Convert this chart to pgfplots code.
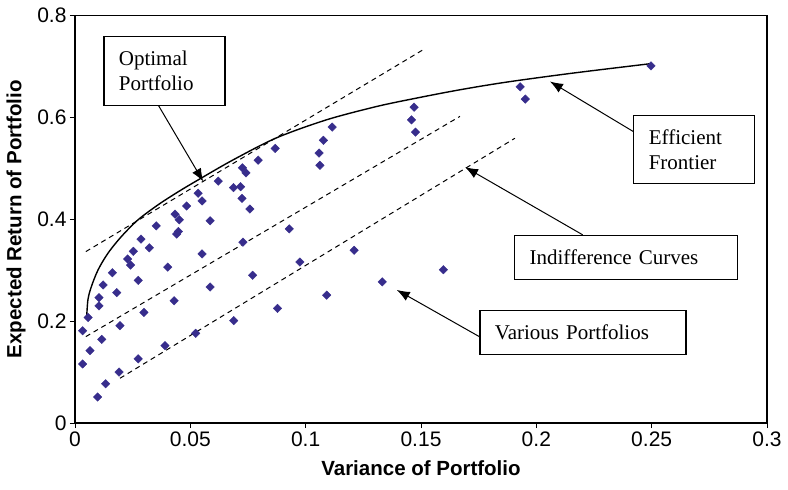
\documentclass[border=0pt]{standalone}
\usepackage{pgfplots}
\pgfplotsset{compat=1.18}
\usetikzlibrary{arrows.meta}
\usepackage{fontspec}
\setmainfont{Liberation Sans}
\newfontfamily\serif{Liberation Serif}
\definecolor{pts}{RGB}{55,45,140}

\begin{document}
\begin{tikzpicture}
\begin{axis}[
  at={(75bp,67bp)}, anchor=south west,
  scale only axis, width=692bp, height=407.5bp,
  xmin=0, xmax=0.3, ymin=0, ymax=0.8,
  xtick={0,0.05,0.1,0.15,0.2,0.25,0.3},
  xticklabels={0,0.05,0.1,0.15,0.2,0.25,0.3},
  ytick={0,0.2,0.4,0.6,0.8},
  yticklabels={0,0.2,0.4,0.6,0.8},
  scaled ticks=false,
  tick align=outside, tick pos=left, major tick length=5bp,
  tick style={black, line width=1bp},
  axis line style={line width=1.2bp},
  ticklabel style={font=\fontsize{21bp}{21bp}\selectfont},
  label style={font=\bfseries\fontsize{20.5bp}{22bp}\selectfont},
  xlabel={Variance of Portfolio},
  ylabel={Expected Return of Portfolio},
  xlabel style={at={(axis description cs:0.5,-0.110)}, anchor=center},
  ylabel style={at={(axis description cs:-0.0853,0.5)}, anchor=center},
  clip=false,
]
% indifference curves
\addplot[black, line width=1bp, dash pattern=on 5bp off 4bp] coordinates {(0.0047,0.3365) (0.1510,0.733)};
\addplot[black, line width=1bp, dash pattern=on 5bp off 4bp] coordinates {(0.0047,0.1696) (0.1669,0.602)};
\addplot[black, line width=1bp, dash pattern=on 5bp off 4bp] coordinates {(0.0195,0.0878) (0.1907,0.559)};
% efficient frontier
\addplot[black, line width=1.4bp, smooth] coordinates {
  (0.0050,0.2024) (0.0056,0.2417) (0.0071,0.2678) (0.0100,0.3006) (0.0143,0.3334)
  (0.0201,0.3660) (0.0273,0.3988) (0.0360,0.4283) (0.0447,0.4538) (0.0542,0.4794)
  (0.0686,0.5167) (0.0874,0.5599) (0.1091,0.5953) (0.1308,0.6214) (0.1481,0.6379)
  (0.1669,0.6542) (0.1872,0.6693) (0.2160,0.6870) (0.2493,0.7053)};
% portfolios
\addplot[only marks, mark=square*, mark size=3bp, color=pts,
  every mark/.append style={rotate=45}] coordinates {
  (0.2497,0.701) (0.1930,0.660) (0.1952,0.636) (0.1470,0.620) (0.1459,0.595)
  (0.1476,0.571) (0.1115,0.581) (0.1077,0.555) (0.1058,0.530) (0.1062,0.506)
  (0.0868,0.539) (0.0794,0.516) (0.0726,0.501) (0.0741,0.491) (0.0621,0.475)
  (0.0687,0.462) (0.0718,0.464) (0.0724,0.441) (0.0534,0.451) (0.0551,0.436)
  (0.0484,0.426) (0.0758,0.420) (0.0434,0.410) (0.0452,0.399) (0.0586,0.397)
  (0.0352,0.387) (0.0448,0.376) (0.0441,0.371) (0.0929,0.381) (0.0286,0.361)
  (0.0728,0.355) (0.0322,0.344) (0.0253,0.337) (0.1210,0.339) (0.0551,0.332)
  (0.0228,0.322) (0.0241,0.310) (0.0402,0.306) (0.0975,0.316) (0.0162,0.295)
  (0.0770,0.290) (0.0274,0.280) (0.1332,0.277) (0.0122,0.271) (0.0586,0.267)
  (0.1597,0.301) (0.0181,0.256) (0.1091,0.251) (0.0104,0.246) (0.0104,0.230)
  (0.0430,0.240) (0.0878,0.225) (0.0299,0.217) (0.0057,0.207) (0.0033,0.181)
  (0.0195,0.191) (0.0688,0.201) (0.0116,0.164) (0.0523,0.176) (0.0065,0.142)
  (0.0390,0.152) (0.0274,0.126) (0.0033,0.116) (0.0191,0.100) (0.0133,0.077)
  (0.0098,0.051)};
% callouts
\draw[line width=1bp, -{Latex[length=13bp,width=10bp]}] (axis cs:0.0360,0.6248) -- (axis cs:0.0556,0.4741);
\draw[line width=1bp, -{Latex[length=13bp,width=10bp]}] (axis cs:0.2420,0.5723) -- (axis cs:0.2059,0.6705);
\draw[line width=1bp, -{Latex[length=13bp,width=10bp]}] (axis cs:0.2201,0.3694) -- (axis cs:0.1691,0.5024);
\draw[line width=1bp, -{Latex[length=13bp,width=10bp]}] (axis cs:0.1753,0.1695) -- (axis cs:0.1395,0.2613);
\tikzset{callout/.style={draw, fill=white, line width=1.2bp, anchor=north west,
  inner xsep=15bp, inner ysep=0bp, align=left,
  font=\serif\fontsize{21bp}{25bp}\selectfont}}
\node[callout, text width=91bp, minimum height=69bp] at (axis cs:0.01227,0.7603) {Optimal\\Portfolio};
\node[callout, text width=91bp, minimum height=68bp] at (axis cs:0.2420,0.6051) {Efficient\\Frontier};
\node[callout, text width=193bp, minimum height=44bp] at (axis cs:0.1903,0.3694) {Indifference Curves};
\node[callout, text width=176bp, minimum height=44bp] at (axis cs:0.1753,0.2220) {Various Portfolios};
\end{axis}
\pgfresetboundingbox
\path[use as bounding box] (0,0) rectangle (788bp,490bp);
\end{tikzpicture}
\end{document}
